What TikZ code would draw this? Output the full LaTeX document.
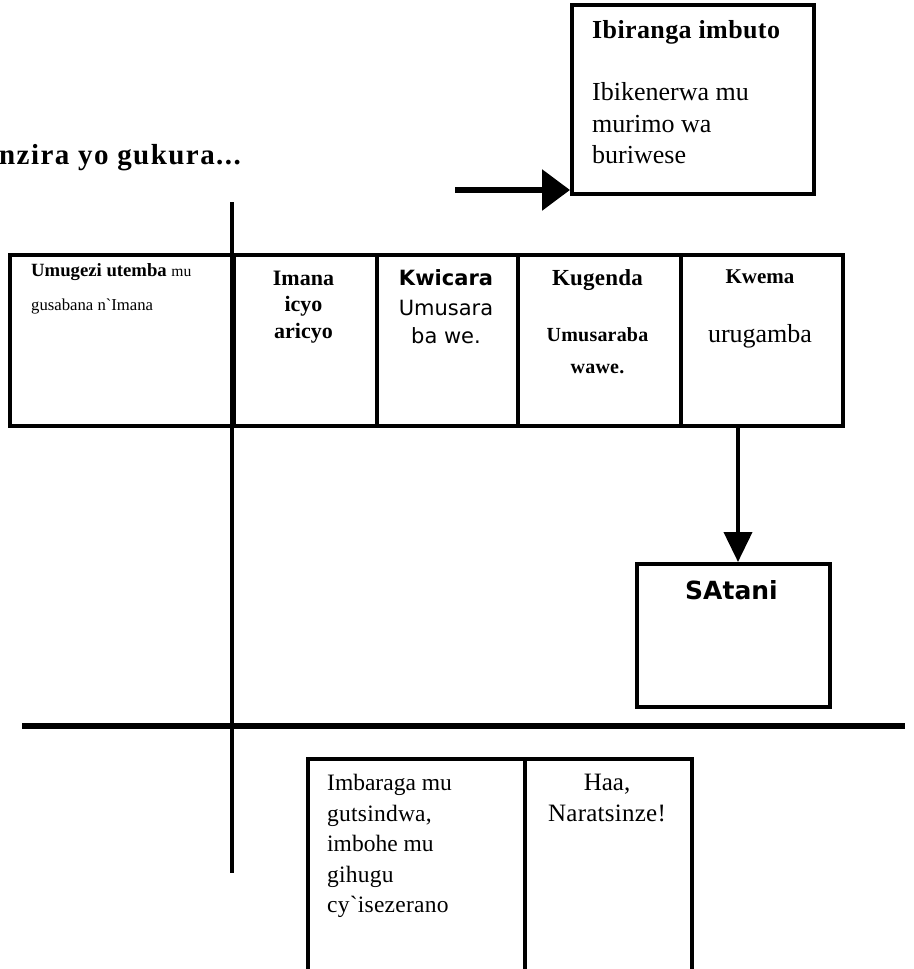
\documentclass[tikz,border=0pt]{standalone}
\usepackage{fontspec}
\setmainfont{Liberation Serif}
\newfontfamily\dv{DejaVu Sans}
\newfontfamily\ser{Liberation Serif}
\usetikzlibrary{arrows.meta}
\newcommand\fsz[1]{\fontsize{#1pt}{#1pt}\selectfont}
\newcommand\lsp[1]{\addfontfeature{LetterSpace=#1}}
\tikzset{
  box/.style={draw, line width=4pt, inner sep=0pt, anchor=north west},
  tl/.style={inner sep=0pt, anchor=base west},
  tc/.style={inner sep=0pt, anchor=base},
  rule/.style={line width=4pt},
  arrA/.style={line width=6pt, -{Triangle[width=40pt,length=28pt]}},
  arrB/.style={line width=4pt, -{Triangle[width=28pt,length=30pt]}},
}
\begin{document}
\begin{tikzpicture}[x=1pt,y=-1pt]
\useasboundingbox (0,0) rectangle (913,969);
\clip (0,0) rectangle (913,969);

% heading
\node[tl] (title) at (-1,164) {\ser\fsz{29}\lsp{5}\bfseries nzira yo gukura...};

% top-right box
\node[box, minimum width=242pt, minimum height=189pt] (ib) at (570,3) {};
\node[tl] (ibh) at (592,38) {\ser\fsz{26}\lsp{1.5}\bfseries Ibiranga imbuto};
\node[tl] (ib1) at (592,100) {\ser\fsz{26}Ibikenerwa mu};
\node[tl] (ib2) at (592,132) {\ser\fsz{26}murimo wa};
\node[tl] (ib3) at (592,163) {\ser\fsz{26}buriwese};

% row of boxes
\node[box, minimum width=224pt, minimum height=171pt] (b1) at (8,253) {};
\node[box, minimum width=143pt, minimum height=171pt] (b2) at (232,253) {};
\node[box, minimum width=141pt, minimum height=171pt] (b3) at (375,253) {};
\node[box, minimum width=163pt, minimum height=171pt] (b4) at (516,253) {};
\node[box, minimum width=162pt, minimum height=171pt] (b5) at (679,253) {};

\node[tl] (b1a) at (31,276) {\ser\fsz{18.7}\textbf{Umugezi utemba} {\fsz{15.6}mu}};
\node[tl] (b1b) at (31,310) {\ser\fsz{16.7}gusabana n`Imana};

\node[tc] (b2a) at (303.5,285) {\ser\fsz{22}\bfseries Imana};
\node[tc] (b2b) at (303.5,311) {\ser\fsz{22}\bfseries icyo};
\node[tc] (b2c) at (303.5,338) {\ser\fsz{22}\bfseries aricyo};

\node[tc] (b3a) at (446,285) {\dv\fsz{21}\bfseries Kwicara};
\node[tc] (b3b) at (446,315) {\dv\fsz{21}Umusara};
\node[tc] (b3c) at (446,343) {\dv\fsz{21}ba we.};

\node[tc] (b4a) at (597.5,285) {\ser\fsz{23}\lsp{1}\bfseries Kugenda};
\node[tc] (b4b) at (597.5,341) {\ser\fsz{20}\lsp{1}\bfseries Umusaraba};
\node[tc] (b4c) at (597.5,373) {\ser\fsz{20}\lsp{1}\bfseries wawe.};

\node[tc] (b5a) at (760,283) {\ser\fsz{21}\bfseries Kwema};
\node[tc] (b5b) at (760,342) {\ser\fsz{26}urugamba};

% lower box
\node[box, minimum width=193pt, minimum height=143pt] (sat) at (635,562) {};
\node[tc] (sata) at (731.5,599) {\dv\fsz{25}\bfseries SAtani};

% bottom boxes
\node[box, minimum width=217pt, minimum height=240pt] (p1) at (306,757) {};
\node[box, minimum width=167pt, minimum height=240pt] (p2) at (523,757) {};
\node[tl] (p1a) at (327,790) {\ser\fsz{23.5}Imbaraga mu};
\node[tl] (p1b) at (327,821) {\ser\fsz{23.5}\lsp{1}gutsindwa,};
\node[tl] (p1c) at (327,851) {\ser\fsz{23.5}imbohe mu};
\node[tl] (p1d) at (327,882) {\ser\fsz{23.5}\lsp{1}gihugu};
\node[tl] (p1e) at (327,912) {\ser\fsz{23.5}\lsp{1}cy`isezerano};
\node[tc] (p2a) at (607,790) {\ser\fsz{25}Haa,};
\node[tc] (p2b) at (607,821) {\ser\fsz{25}\lsp{1}Naratsinze!};

% axis lines
\coordinate (vtop) at (232,202);
\coordinate (vbot) at (232,873);
\coordinate (hl) at (22,726);
\coordinate (hr) at (905,726);
\draw[rule] (vtop) -- (vbot);
\draw[line width=6pt] (hl) -- (hr);

% arrows
\coordinate (a1) at (455,190);
\draw[arrA] (a1) -- (a1 -| ib.west);
\coordinate (a2) at (738,424);
\draw[arrB] (a2) -- (a2 |- sat.north);
\end{tikzpicture}
\end{document}
